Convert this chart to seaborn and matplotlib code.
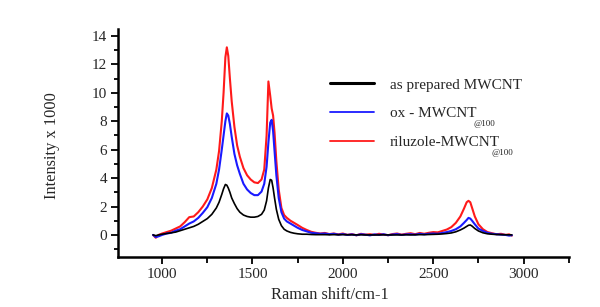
import numpy as np
import pandas as pd
import matplotlib
matplotlib.use('Agg')
import matplotlib.pyplot as plt
from matplotlib.ticker import MultipleLocator
from matplotlib.lines import Line2D
import seaborn as sns

# Raman shift grid (cm-1) shared by the three spectra
shift = [950, 965, 980, 1000, 1025, 1050, 1075, 1100, 1125, 1150, 1175, 1200,
         1225, 1250, 1275, 1300, 1315, 1330, 1340, 1350, 1358, 1366, 1375, 1385,
         1400, 1415, 1430, 1450, 1470, 1490, 1510, 1530, 1550, 1565, 1578, 1588,
         1598, 1606, 1614, 1622, 1632, 1645, 1660, 1675, 1690, 1710, 1730, 1750,
         1775, 1800, 1825, 1850, 1875, 1900, 1925, 1950, 1975, 2000, 2025, 2050,
         2075, 2100, 2125, 2150, 2175, 2200, 2225, 2250, 2275, 2300, 2325, 2350,
         2375, 2400, 2425, 2450, 2475, 2500, 2525, 2550, 2575, 2600, 2625, 2650,
         2670, 2685, 2695, 2705, 2715, 2730, 2750, 2775, 2800, 2825, 2850, 2875,
         2900, 2920, 2935]

# intensity x 1000
as_prepared = [0.0, -0.05, 0.0, 0.05, 0.1, 0.15, 0.2, 0.3, 0.4, 0.5, 0.6, 0.75,
               0.95, 1.15, 1.45, 1.9, 2.3, 2.85, 3.25, 3.55, 3.5, 3.3, 3.0, 2.6,
               2.2, 1.85, 1.6, 1.4, 1.3, 1.25, 1.25, 1.3, 1.45, 1.75, 2.4, 3.3,
               3.9, 3.85, 3.3, 2.6, 1.8, 1.1, 0.65, 0.4, 0.28, 0.18, 0.12, 0.08,
               0.05, 0.05, 0.03, 0.02, 0.02, 0.02, 0.01, 0.02, 0.01, 0.02, 0.01, 0.01,
               0.0, 0.01, 0.0, 0.0, 0.0, 0.0, 0.01, 0.0, 0.0, 0.0, 0.0, 0.01,
               0.0, 0.01, 0.02, 0.02, 0.03, 0.04, 0.05, 0.07, 0.1, 0.14, 0.22, 0.35,
               0.48, 0.6, 0.68, 0.7, 0.62, 0.45, 0.28, 0.15, 0.08, 0.05, 0.03, 0.02,
               0.01, 0.01, 0.0]

ox = [0.0, -0.15, -0.1, 0.0, 0.1, 0.15, 0.3, 0.4, 0.6, 0.8, 0.95, 1.2,
      1.55, 1.95, 2.6, 3.6, 4.6, 6.0, 7.0, 8.0, 8.55, 8.4, 7.8, 6.9,
      5.7, 4.9, 4.3, 3.6, 3.2, 2.95, 2.8, 2.8, 3.05, 3.6, 4.8, 6.5,
      7.9, 8.1, 7.3, 5.9, 4.2, 2.6, 1.6, 1.15, 0.95, 0.8, 0.65, 0.5,
      0.35, 0.25, 0.15, 0.12, 0.08, 0.1, 0.05, 0.08, 0.02, 0.06, 0.0, 0.04,
      -0.02, 0.05, 0.02, -0.03, 0.04, 0.0, 0.05, -0.02, 0.03, 0.06, 0.0, 0.04,
      0.05, 0.02, 0.08, 0.04, 0.08, 0.1, 0.08, 0.14, 0.2, 0.28, 0.4, 0.6,
      0.85, 1.05, 1.2, 1.15, 1.0, 0.75, 0.45, 0.28, 0.15, 0.08, 0.05, 0.02,
      0.0, -0.05, -0.02]

riluzole = [0.0, -0.2, 0.0, 0.1, 0.2, 0.3, 0.45, 0.6, 0.9, 1.25, 1.3, 1.6,
            2.0, 2.5, 3.3, 4.6, 5.9, 8.0, 10.0, 12.5, 13.2, 12.6, 11.0, 9.4,
            7.6, 6.3, 5.5, 4.7, 4.2, 3.9, 3.7, 3.65, 3.9, 4.6, 7.0, 10.8,
            9.8, 8.9, 8.4, 7.2, 5.2, 3.2, 1.9, 1.4, 1.2, 1.0, 0.85, 0.7,
            0.5, 0.35, 0.22, 0.15, 0.1, 0.14, 0.06, 0.1, 0.04, 0.1, 0.0, 0.06,
            -0.03, 0.08, 0.02, 0.05, 0.0, 0.08, 0.03, -0.02, 0.06, 0.1, 0.02, 0.08,
            0.12, 0.05, 0.14, 0.08, 0.15, 0.2, 0.18, 0.28, 0.38, 0.55, 0.85, 1.3,
            1.85, 2.3, 2.4, 2.3, 1.9, 1.3, 0.75, 0.4, 0.2, 0.12, 0.05, 0.08,
            0.0, 0.04, -0.05]

sns.set_style('ticks')
plt.rcParams['font.family'] = ['Liberation Serif', 'DejaVu Serif']

fig = plt.figure(figsize=(6, 3.07), dpi=100)
ax = fig.add_axes([0.197, 0.163, 0.751, 0.743])

sns.lineplot(x=shift, y=riluzole, color='#ff1a1a', lw=1.5, ax=ax)
sns.lineplot(x=shift, y=ox, color='#1a1aff', lw=1.5, ax=ax)
sns.lineplot(x=shift, y=as_prepared, color='black', lw=1.2, ax=ax)

ax.set_xlim(757, 3250)
ax.set_ylim(-1.55, 14.5)
ax.xaxis.set_major_locator(MultipleLocator(500))
ax.xaxis.set_minor_locator(MultipleLocator(250))
ax.yaxis.set_major_locator(MultipleLocator(2))
ax.yaxis.set_minor_locator(MultipleLocator(1))
ax.tick_params(which='major', length=5, width=1.3, labelsize=11, color='black', pad=3)
ax.tick_params(which='minor', length=3, width=1.3, color='black')
ax.tick_params(axis='x', which='minor', length=4)
sns.despine(ax=ax)
for s in ['left', 'bottom']:
    ax.spines[s].set_linewidth(1.8)
    ax.spines[s].set_color('black')

ax.set_xlabel('Raman shift/cm-1', fontsize=11.8)
ax.set_ylabel('Intensity x 1000', fontsize=11.8)
ax.yaxis.set_label_coords(-0.129, 0.49)
ax.xaxis.set_label_coords(0.47, -0.13)

# legend
handles = [Line2D([], [], color='black', lw=2.2),
           Line2D([], [], color='#1a1aff', lw=1.3),
           Line2D([], [], color='#ff1a1a', lw=1.3)]
labels = ['as prepared MWCNT', 'ox - MWCNT', 'riluzole-MWCNT']
ax.legend(handles, labels, frameon=False, fontsize=11, loc='upper left',
          bbox_to_anchor=(330 / 600, 1 - 78 / 307), bbox_transform=fig.transFigure,
          handlelength=2.9, handletextpad=1.0, labelspacing=0.98, borderpad=0,
          borderaxespad=0)
fig.text(474 / 600, 1 - 124 / 307, '@100', fontsize=6.5, va='center')
fig.text(491 / 600, 1 - 153 / 307, '@100', fontsize=6.5, va='center')

fig.savefig('out.png', dpi=100)
